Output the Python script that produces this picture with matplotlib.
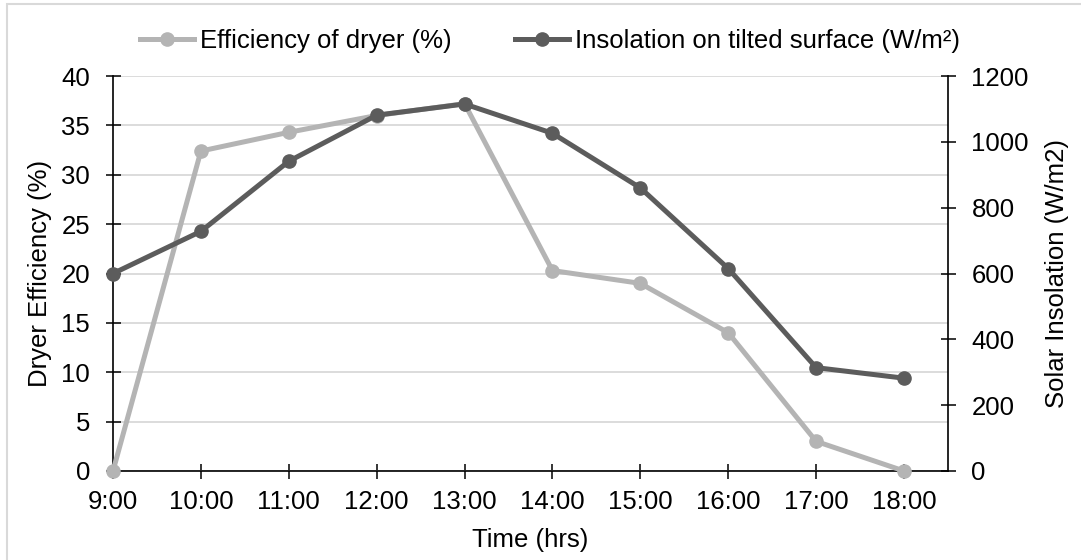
import numpy as np
import matplotlib.pyplot as plt
from matplotlib.lines import Line2D
from matplotlib.patches import Rectangle

plt.rcParams['font.family'] = ['Liberation Sans', 'DejaVu Sans']

times = ["9:00", "10:00", "11:00", "12:00", "13:00", "14:00", "15:00", "16:00", "17:00", "18:00"]
efficiency = [0, 32.4, 34.3, 36.0, 37.2, 20.3, 19.0, 14.0, 3.0, 0]
insolation = [600, 728, 941, 1081, 1115, 1026, 860, 615, 314, 282]

light = "#b4b4b4"
dark = "#5c5c5c"
fs = 18.5
W, H = 1081, 560

fig = plt.figure(figsize=(W / 100, H / 100), dpi=100)
# light frame round the chart (right and bottom edges fall outside the image)
fig.patches.append(Rectangle((7 / W, -0.01), 1.05, 1 - 4 / H + 0.01, transform=fig.transFigure,
                             fill=False, edgecolor="#d9d9d9", linewidth=1.5))
left, right, top, bottom = 113, 948, 76, 471
ax = fig.add_axes([left / W, 1 - bottom / H, (right - left) / W, (bottom - top) / H])
ax2 = ax.twinx()

x = np.arange(len(times))
ax.plot(x, efficiency, color=light, lw=3.6, marker="o", ms=9.5, zorder=3, clip_on=False)
ax2.plot(x, insolation, color=dark, lw=3.6, marker="o", ms=9.5, zorder=3, clip_on=False)

ax.set_xlim(0, 9.5)
ax.set_ylim(0, 40)
ax2.set_ylim(0, 1200)
ax.set_yticks(np.arange(0, 41, 5))
ax2.set_yticks(np.arange(0, 1201, 200))
ax.set_xticks(x)
ax.set_xticklabels(times)
ax.grid(axis="y", color="#d9d9d9", lw=1.3)
ax.set_axisbelow(True)

for a in (ax, ax2):
    a.spines["top"].set_visible(False)
    a.tick_params(labelsize=fs, direction="inout", length=10.8, width=1.1, color="black")
ax.tick_params(axis="y", pad=11)
ax2.tick_params(axis="y", pad=11.5)
ax.tick_params(axis="x", pad=8)
ax.spines["right"].set_visible(False)
ax2.spines["left"].set_visible(False)
ax2.spines["bottom"].set_visible(False)
for s in (ax.spines["left"], ax.spines["bottom"], ax2.spines["right"]):
    s.set_linewidth(1.2)

pw, ph = right - left, bottom - top
ax.set_xlabel("Time (hrs)", fontsize=fs)
ax.xaxis.set_label_coords(0.5, -(540 - bottom) / ph)
ax.set_ylabel("Dryer Efficiency (%)", fontsize=fs)
ax.yaxis.set_label_coords((40 - left) / pw, 0.5)
ax2.set_ylabel("Solar Insolation (W/m2)", fontsize=fs)
ax2.yaxis.set_label_coords((1057 - left) / pw, 0.5)
ax.xaxis.label.set_va("center")
ax.yaxis.label.set_va("center")
ax2.yaxis.label.set_va("center")

handles = [Line2D([], [], color=light, lw=3.6, marker="o", ms=9.5),
           Line2D([], [], color=dark, lw=3.6, marker="o", ms=9.5)]
fig.legend(handles, ["Efficiency of dryer (%)", "Insolation on tilted surface (W/m²)"],
           loc="center", bbox_to_anchor=(550 / W, 1 - 41 / H), ncol=2, frameon=False,
           fontsize=fs, handlelength=2.1, handletextpad=0.2, columnspacing=2.5,
           borderpad=0, borderaxespad=0)

fig.savefig("out.png", dpi=100)
